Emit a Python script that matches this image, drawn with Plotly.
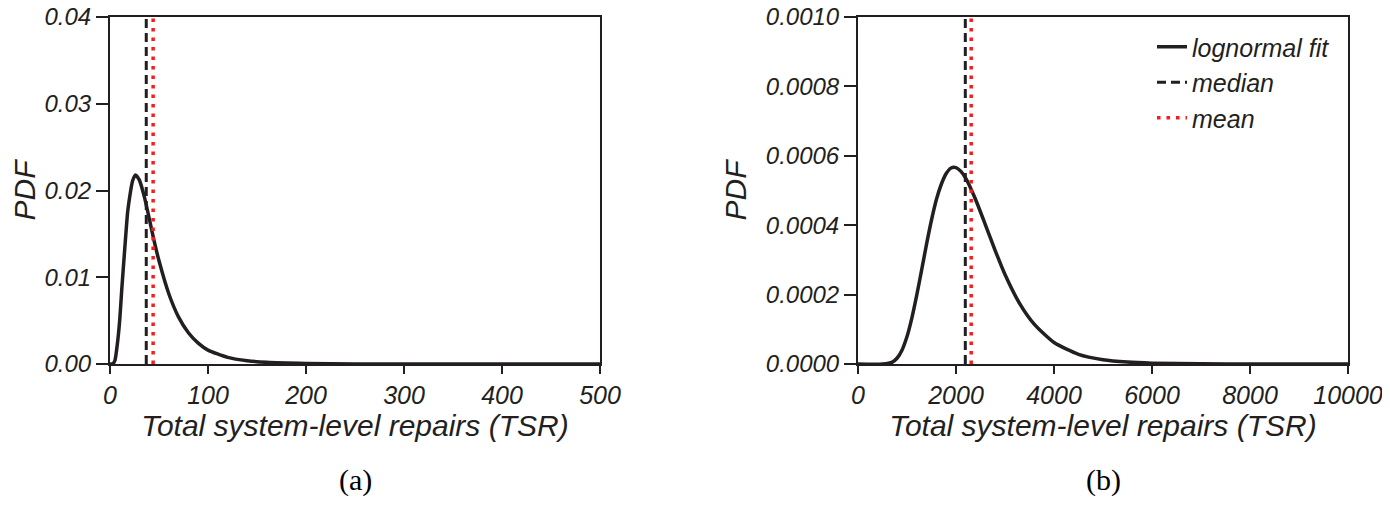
import plotly.graph_objects as go
from plotly.subplots import make_subplots

# values
tsr_a = [0, 3, 5, 8, 10, 12, 15, 18, 20, 23, 26, 30, 35, 40, 45, 50, 60, 70,
         80, 90, 100, 120, 140, 160, 200, 250, 300, 400, 500]
pdf_a = [0, 0.00003, 0.0004, 0.0028, 0.0052, 0.0086, 0.0132, 0.0175, 0.0192,
         0.0211, 0.0218, 0.0212, 0.0193, 0.0168, 0.0142, 0.0119, 0.0081, 0.0054,
         0.0036, 0.0024, 0.0016, 0.00077, 0.00038, 0.00019, 0.00006, 0.00001,
         0.000004, 0, 0]
median_a = 37
mean_a = 44

tsr_b = [0, 500, 700, 800, 900, 1000, 1100, 1200, 1300, 1400, 1500, 1600, 1700,
         1800, 1900, 2000, 2100, 2200, 2400, 2600, 2800, 3000, 3300, 3600, 4000,
         4500, 5000, 5500, 6000, 7000, 8000, 10000]
pdf_b = [0, 0, 0.0000056, 0.0000173, 0.0000405, 0.000079, 0.000133, 0.000199,
         0.000272, 0.000346, 0.000415, 0.000474, 0.000518, 0.000549, 0.000565,
         0.000566, 0.000555, 0.000535, 0.000474, 0.000401, 0.000327, 0.000258,
         0.000174, 0.000114, 0.000062, 0.000028, 0.0000125, 0.0000056,
         0.0000025, 0.0000004, 0, 0]
median_b = 2190
mean_b = 2310

panels = [
    dict(x=tsr_a, y=pdf_a, med=median_a, mean=mean_a, xmax=500, xstep=100,
         ymax=0.04, ystep=0.01, yfmt='.2f', label='(a)', legend=False),
    dict(x=tsr_b, y=pdf_b, med=median_b, mean=mean_b, xmax=10000, xstep=2000,
         ymax=0.001, ystep=0.0002, yfmt='.4f', label='(b)', legend=True),
]

INK = '#231f20'
SANS = 'Liberation Sans, Arial, sans-serif'
SERIF = 'Liberation Serif, Times New Roman, serif'

# the page body adds an 8px margin on every side, so keep the figure inside the window
OFF = 8
W, H = 1390 - 2 * OFF, 505 - 2 * OFF


def px_x(p):
    return (p - OFF) / W


def px_y(p):
    return 1 - (p - OFF) / H


fig = make_subplots(rows=1, cols=2)

x_domains = [[px_x(110), px_x(600)], [px_x(858), px_x(1348)]]
y_domain = [px_y(364), px_y(17)]

for i, p in enumerate(panels):
    col = i + 1
    fig.add_trace(go.Scatter(x=p['x'], y=p['y'], mode='lines', name='lognormal fit',
                             line=dict(color=INK, width=3.5, shape='spline', smoothing=0.6),
                             showlegend=p['legend']), row=1, col=col)
    fig.add_trace(go.Scatter(x=[p['med'], p['med']], y=[0, p['ymax']], mode='lines',
                             name='median', line=dict(color=INK, width=3, dash='9px,5px'),
                             showlegend=p['legend']), row=1, col=col)
    fig.add_trace(go.Scatter(x=[p['mean'], p['mean']], y=[0, p['ymax']], mode='lines',
                             name='mean', line=dict(color='#ff1a1a', width=3.5, dash='3.5px,6px'),
                             showlegend=p['legend']), row=1, col=col)

    fig.update_xaxes(row=1, col=col, domain=x_domains[i], range=[0, p['xmax']],
                     dtick=p['xstep'], tick0=0, tickformat='d', automargin=False,
                     ticklabeloverflow='allow', showgrid=False, zeroline=False,
                     showline=True, mirror=True, linecolor=INK, linewidth=2,
                     ticks='outside', ticklen=8, tickwidth=2, tickcolor=INK,
                     tickfont=dict(family=SANS, size=25, color=INK, style='italic'),
                     title=dict(text='Total system-level repairs (TSR)', standoff=6,
                                font=dict(family=SANS, size=30, color=INK, style='italic')))
    fig.update_yaxes(row=1, col=col, domain=y_domain, range=[0, p['ymax']],
                     dtick=p['ystep'], tick0=0, tickformat=p['yfmt'], automargin=False,
                     ticklabeloverflow='allow', showgrid=False, zeroline=False,
                     showline=True, mirror=True, linecolor=INK, linewidth=2,
                     ticks='outside', ticklen=12, tickwidth=2, tickcolor=INK,
                     tickfont=dict(family=SANS, size=24, color=INK, style='italic'),
                     title=dict(text='PDF', standoff=10,
                                font=dict(family=SANS, size=30, color=INK, style='italic')))

    fig.add_annotation(text=p['label'], xref='paper', yref='paper',
                       x=sum(x_domains[i]) / 2, y=px_y(480),
                       xanchor='center', yanchor='middle', showarrow=False,
                       font=dict(family=SERIF, size=30, color='black'))

fig.update_layout(
    width=W, height=H,
    margin=dict(l=0, r=0, t=0, b=0, autoexpand=False),
    paper_bgcolor='white', plot_bgcolor='white',
    legend=dict(x=px_x(1152), y=px_y(24), xanchor='left', yanchor='top',
                bgcolor='rgba(0,0,0,0)',
                font=dict(family=SANS, size=25, color=INK, style='italic')),
)

fig.write_html("out.html")
